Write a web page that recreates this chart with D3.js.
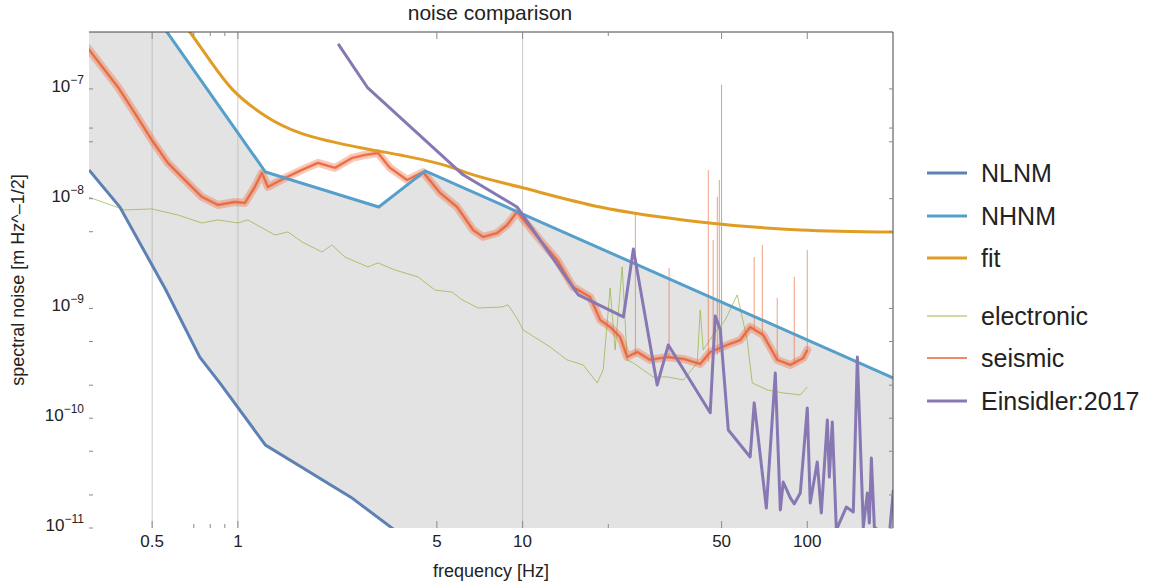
<!DOCTYPE html>
<html>
<head>
<meta charset="utf-8">
<script src="https://cdnjs.cloudflare.com/ajax/libs/d3/7.8.5/d3.min.js"></script>
<style>
  body { margin: 0; background: #fff; }
  svg { font-family: "Liberation Sans", Arial, sans-serif; }
</style>
</head>
<body>
<svg id="chart" width="1151" height="588"></svg>
<script>
// noise models (Peterson)
var nlnmF = [0.3, 0.385, 0.558, 0.735, 0.864, 1.25, 2.5, 5.88];
var nlnmV = [1.83e-8, 8.4e-9, 1.48e-9, 3.6e-10, 2.1e-10, 5.7e-11, 1.9e-11, 3.6e-12];

var nhnmF = [0.3, 1.25, 3.125, 4.55, 200];
var nhnmV = [3.37e-6, 1.75e-8, 8.4e-9, 1.79e-8, 2.33e-10];

var fitF = [0.532, 0.678, 0.96, 1.265, 1.652, 2.158, 2.84, 3.71, 5.56, 6.38, 10.1, 18.7, 42, 94.5, 200];
var fitV = [7.6e-7, 3.3e-7, 9.8e-8, 5.56e-8, 3.97e-8, 3.29e-8, 2.84e-8, 2.5e-8, 1.95e-8, 1.72e-8, 1.25e-8, 8.4e-9, 6.14e-9, 5.19e-9, 4.97e-9];

var elecF = [0.297, 0.401, 0.498, 0.615, 0.747, 0.851, 1.0, 1.084, 1.349, 1.499, 1.679, 1.974, 2.14, 2.378, 2.864, 3.105, 3.563, 4.292, 4.925, 5.652, 6.13, 6.976, 8.47, 8.89, 9.64, 10.04, 12.49, 14.33, 16.32, 18.28, 19.19, 20.3, 21.14, 22.38, 23.3, 24.46, 28.75, 32.2, 36.7, 41.06, 42.07, 43.1, 46.7, 51.5, 56.75, 61.5, 64.07, 72.35, 82.3, 94.5, 100];
var elecV = [1.04e-8, 7.9e-9, 8.07e-9, 7.11e-9, 6.01e-9, 6.4e-9, 6.01e-9, 6.4e-9, 4.67e-9, 4.98e-9, 4.04e-9, 3.27e-9, 3.79e-9, 2.94e-9, 2.39e-9, 2.6e-9, 2.24e-9, 1.94e-9, 1.47e-9, 1.41e-9, 1.2e-9, 1.01e-9, 1.03e-9, 1.08e-9, 7.86e-10, 6.37e-10, 4.46e-10, 3.4e-10, 3.06e-10, 2.1e-10, 2.75e-10, 1.54e-9, 4.19e-10, 2.39e-9, 3.4e-10, 3.19e-10, 2.38e-10, 2.38e-10, 2.23e-10, 3.19e-10, 9.69e-10, 4.19e-10, 5.73e-10, 7.86e-10, 1.33e-9, 5.16e-10, 2.1e-10, 1.81e-10, 1.7e-10, 1.63e-10, 1.93e-10];
// mains line in the electronic trace
var elecSpikeF = [50];
var elecSpikeLo = [4.0e-10];
var elecSpikeHi = [1.09e-7];

var seisF = [0.297, 0.379, 0.4345, 0.4984, 0.5675, 0.651, 0.747, 0.851, 0.976, 1.058, 1.147, 1.214, 1.275, 1.463, 1.679, 1.911, 2.193, 2.516, 2.795, 3.105, 3.42, 3.93, 4.47, 5.13, 5.886, 6.7, 7.26, 8.14, 8.82, 9.56, 11.52, 13.22, 15.05, 17.27, 18.73, 20.3, 22.01, 23.3, 25.26, 28.06, 32.2, 36.7, 42.07, 45.6, 52.3, 58.2, 63.0, 70.0, 78.4, 87.2, 96.8, 100];
var seisV = [2.36e-7, 1.04e-7, 6.04e-8, 3.43e-8, 2.12e-8, 1.48e-8, 1.04e-8, 8.77e-9, 9.34e-9, 9.15e-9, 1.28e-8, 1.72e-8, 1.28e-8, 1.545e-8, 1.83e-8, 2.12e-8, 1.91e-8, 2.35e-8, 2.5e-8, 2.61e-8, 1.91e-8, 1.48e-8, 1.75e-8, 1.13e-8, 8.41e-9, 5.19e-9, 4.48e-9, 4.87e-9, 5.76e-9, 7.57e-9, 4.21e-9, 2.77e-9, 1.57e-9, 1.27e-9, 7.86e-10, 6.78e-10, 5.5e-10, 3.61e-10, 4.01e-10, 3.4e-10, 3.61e-10, 3.47e-10, 3.12e-10, 4.01e-10, 4.65e-10, 5.16e-10, 6.78e-10, 5.73e-10, 3.4e-10, 3.06e-10, 3.54e-10, 4.19e-10];
// narrow lines sticking out of the seismic trace
var seisSpikeF  = [24.9, 32.7, 44.9, 46.7, 48.3, 49.1, 65.1, 69.5, 78.4, 90.0, 100];
var seisSpikeLo = [3.7e-10, 3.6e-10, 3.3e-10, 3.5e-10, 3.8e-10, 4.0e-10, 6.5e-10, 5.8e-10, 3.4e-10, 3.1e-10, 4.1e-10];
var seisSpikeHi = [7.41e-9, 2.34e-9, 1.83e-8, 4.21e-9, 1.04e-8, 1.48e-8, 2.94e-9, 3.79e-9, 1.25e-9, 1.94e-9, 3.41e-9];

var einsF = [2.25, 2.86, 6.18, 9.56, 15.7, 22.6, 24.5, 29.7, 32.5, 45.6, 47.5, 49.5, 52.8, 63.0, 65.1, 71.8, 77.2, 80.4, 82.3, 87.2, 90.0, 94.5, 100, 102.4, 108.4, 112, 117.6, 119.5, 122.4, 126.5, 137.1, 145.1, 149.9, 157.3, 162.5, 165.2, 167.9, 172, 180.6, 192.7, 200.6];
var einsV = [2.57e-7, 1.02e-7, 1.65e-8, 8.41e-9, 1.33e-9, 8.37e-10, 3.48e-9, 2.01e-10, 4.65e-10, 1.12e-10, 8.54e-10, 6.37e-10, 7.82e-11, 4.44e-11, 1.38e-10, 1.52e-11, 2.58e-10, 1.46e-11, 2.62e-11, 1.88e-11, 1.66e-11, 2.08e-11, 1.24e-10, 1.69e-11, 3.99e-11, 1.37e-11, 9.64e-11, 2.91e-11, 9.24e-11, 9.6e-12, 1.55e-11, 1.4e-11, 3.61e-10, 1.02e-11, 2.08e-11, 1.11e-11, 4.34e-11, 1.02e-11, 9.2e-12, 7.0e-12, 2.22e-11];

var xTicks = [0.5, 1, 5, 10, 50, 100];
var xMinor = [0.7, 0.8, 0.9, 20];
var xGrid = [0.5, 1, 10];
var yTicks = [-7, -8, -9, -10, -11];
var yMinor = [4.4e-8, 3.3e-8, 5e-9, 5e-10, 2e-10, 5e-11, 2e-11];

var legendNames = ['NLNM', 'NHNM', 'fit', 'electronic', 'seismic', 'Einsidler:2017'];

var colors = {
  nlnm: '#5e81b5', nhnm: '#559fca', fit: '#e19c24',
  elec: '#8fb032', seis: '#eb6235', eins: '#8778b3'
};

var margin = {top: 32, right: 258, bottom: 60, left: 89};
var W = 1151, H = 588;
var svg = d3.select('#chart');

var x = d3.scaleLog().domain([0.3, 200]).range([margin.left, W - margin.right]);
var y = d3.scaleLog().domain([1e-11, 3.3e-7]).range([H - margin.bottom, margin.top]);
var x0 = x.range()[0], x1 = x.range()[1], y0 = y.range()[0], y1 = y.range()[1];

function zip(fs, vs) { return fs.map(function(f, i) { return [f, vs[i]]; }); }

svg.append('clipPath').attr('id', 'plot-clip')
  .append('rect').attr('x', x0).attr('y', y1).attr('width', x1 - x0).attr('height', y0 - y1);

var plot = svg.append('g').attr('clip-path', 'url(#plot-clip)');

var line = d3.line().x(function(d) { return x(d[0]); }).y(function(d) { return y(d[1]); });

// grey band between the low and high noise models
var band = zip(nhnmF, nhnmV)
  .concat([[200, 1e-11]])
  .concat(zip(nlnmF, nlnmV).reverse());
plot.append('path')
  .attr('d', line(band) + 'Z')
  .attr('fill', '#e3e3e3');

plot.selectAll('line.grid')
  .data(xGrid).enter().append('line')
  .attr('class', 'grid')
  .attr('x1', function(d) { return x(d); }).attr('x2', function(d) { return x(d); })
  .attr('y1', y1).attr('y2', y0)
  .attr('stroke', '#bdbdbd').attr('stroke-width', 1).attr('opacity', 0.8);

// electronic
plot.append('path').attr('d', line(zip(elecF, elecV)))
  .attr('fill', 'none').attr('stroke', colors.elec).attr('stroke-width', 0.9).attr('opacity', 0.75);
plot.selectAll('line.espike').data(elecSpikeF).enter().append('line')
  .attr('class', 'espike')
  .attr('x1', function(d) { return x(d); }).attr('x2', function(d) { return x(d); })
  .attr('y1', function(d, i) { return y(elecSpikeLo[i]); })
  .attr('y2', function(d, i) { return y(elecSpikeHi[i]); })
  .attr('stroke', colors.elec).attr('stroke-width', 1).attr('opacity', 0.8);

// seismic: a soft band under a thin trace stands in for the noisy spectrum
var seis = line(zip(seisF, seisV));
plot.append('path').attr('d', seis)
  .attr('fill', 'none').attr('stroke', colors.seis).attr('stroke-width', 8).attr('opacity', 0.35)
  .attr('stroke-linejoin', 'round').attr('stroke-linecap', 'round');
plot.append('path').attr('d', seis)
  .attr('fill', 'none').attr('stroke', colors.seis).attr('stroke-width', 3).attr('opacity', 0.55)
  .attr('stroke-linejoin', 'round');
plot.append('path').attr('d', seis)
  .attr('fill', 'none').attr('stroke', colors.seis).attr('stroke-width', 1.2);
plot.selectAll('line.sspike').data(seisSpikeF).enter().append('line')
  .attr('class', 'sspike')
  .attr('x1', function(d) { return x(d); }).attr('x2', function(d) { return x(d); })
  .attr('y1', function(d, i) { return y(seisSpikeLo[i]); })
  .attr('y2', function(d, i) { return y(seisSpikeHi[i]); })
  .attr('stroke', colors.seis).attr('stroke-width', 1).attr('opacity', 0.6);

plot.append('path').attr('d', line(zip(nlnmF, nlnmV)))
  .attr('fill', 'none').attr('stroke', colors.nlnm).attr('stroke-width', 3);
plot.append('path').attr('d', line(zip(nhnmF, nhnmV)))
  .attr('fill', 'none').attr('stroke', colors.nhnm).attr('stroke-width', 3);
plot.append('path').attr('d', line.curve(d3.curveMonotoneX)(zip(fitF, fitV)))
  .attr('fill', 'none').attr('stroke', colors.fit).attr('stroke-width', 3);
line.curve(d3.curveLinear);
plot.append('path').attr('d', line(zip(einsF, einsV)))
  .attr('fill', 'none').attr('stroke', colors.eins).attr('stroke-width', 3)
  .attr('stroke-linejoin', 'round');

// frame: only top and right are drawn dark
svg.append('path')
  .attr('d', 'M' + x0 + ',' + y1 + 'H' + x1 + 'V' + y0)
  .attr('fill', 'none').attr('stroke', '#444').attr('stroke-width', 1);

// ticks (pointing inward on all sides)
var tickCol = '#8a8a8a';
var tk = svg.append('g').attr('stroke', tickCol).attr('stroke-width', 1);
xTicks.forEach(function(t) {
  tk.append('line').attr('x1', x(t)).attr('x2', x(t)).attr('y1', y0).attr('y2', y0 - 7);
  tk.append('line').attr('x1', x(t)).attr('x2', x(t)).attr('y1', y1).attr('y2', y1 + 7);
});
xMinor.forEach(function(t) {
  tk.append('line').attr('x1', x(t)).attr('x2', x(t)).attr('y1', y0).attr('y2', y0 - 4);
  tk.append('line').attr('x1', x(t)).attr('x2', x(t)).attr('y1', y1).attr('y2', y1 + 4);
});
yTicks.map(function(e) { return Math.pow(10, e); }).concat(yMinor).forEach(function(v) {
  tk.append('line').attr('x1', x0).attr('x2', x0 + 4).attr('y1', y(v)).attr('y2', y(v));
  tk.append('line').attr('x1', x1).attr('x2', x1 - 4).attr('y1', y(v)).attr('y2', y(v));
});

var txt = '#222';
svg.selectAll('text.xt').data(xTicks).enter().append('text')
  .attr('class', 'xt')
  .attr('x', function(d) { return x(d); }).attr('y', 547)
  .attr('text-anchor', 'middle').attr('font-size', 17).attr('fill', txt)
  .text(function(d) { return d; });

var yt = svg.selectAll('text.yt').data(yTicks).enter().append('text')
  .attr('class', 'yt')
  .attr('x', 84).attr('y', function(d) { return Math.min(y(Math.pow(10, d)) + 3, 531); })
  .attr('text-anchor', 'end').attr('font-size', 17).attr('fill', txt);
yt.append('tspan').text('10');
yt.append('tspan').attr('dy', -8).attr('font-size', 12)
  .text(function(d) { return '\u2212' + (-d); });

svg.append('text').attr('x', 490).attr('y', 20).attr('text-anchor', 'middle')
  .attr('font-size', 21).attr('fill', txt).text('noise comparison');
svg.append('text').attr('x', 491).attr('y', 577).attr('text-anchor', 'middle')
  .attr('font-size', 18).attr('fill', txt).text('frequency [Hz]');
svg.append('text')
  .attr('transform', 'translate(24,' + ((y0 + y1) / 2) + ') rotate(-90)')
  .attr('text-anchor', 'middle').attr('font-size', 18).attr('fill', txt)
  .text('spectral noise [m Hz^\u20131/2]');

// legend
var legY = [173, 216, 258, 316, 358, 401];
var legCol = [colors.nlnm, colors.nhnm, colors.fit, colors.elec, colors.seis, colors.eins];
var legW = [3, 3, 3, 1.5, 1.5, 3];
var legOp = [1, 1, 1, 0.6, 1, 1];
var leg = svg.append('g');
legendNames.forEach(function(name, i) {
  leg.append('line').attr('x1', 927).attr('x2', 967).attr('y1', legY[i]).attr('y2', legY[i])
    .attr('stroke', legCol[i]).attr('stroke-width', legW[i]).attr('opacity', legOp[i]);
  leg.append('text').attr('x', 981).attr('y', legY[i]).attr('dy', '0.35em')
    .attr('font-size', 25).attr('fill', txt).text(name);
});
</script>
</body>
</html>
